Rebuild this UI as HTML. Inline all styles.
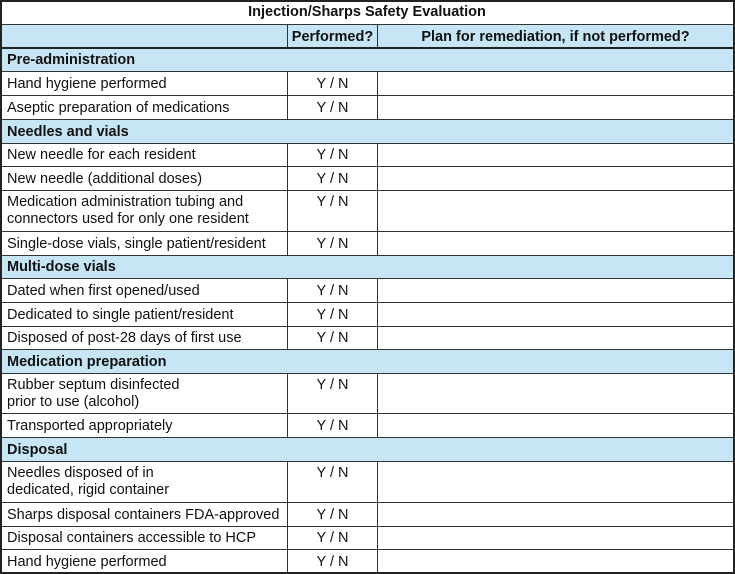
<!DOCTYPE html>
<html><head><meta charset="utf-8"><style>
body{margin:0;width:735px;height:574px;background:#fff;font-family:"Liberation Sans",Arial,sans-serif;font-size:14.5px;color:#111;position:relative;overflow:hidden}
.r{position:absolute;left:1px;width:732px;border-top:1px solid #333;box-sizing:border-box}
.s{background:#c6e6f5;font-weight:bold}
.c{position:absolute;top:0;bottom:0;box-sizing:border-box}
.a{left:0;width:286px;padding-left:6px;white-space:nowrap}
.b{left:286px;width:90px;border-left:1px solid #333;text-align:center}
.d{left:376px;right:0;border-left:1px solid #333}
.one .a,.one .b{display:flex;align-items:center}
.one .b{justify-content:center}
.two .a{padding-top:3px;line-height:17px}
.two .b{padding-top:3px;line-height:17px}
.sec{padding-left:6px;display:flex;align-items:center}
#frame{position:absolute;left:0;top:0;width:735px;height:574px;box-sizing:border-box;border:2px solid #222;pointer-events:none}
</style></head><body>
<div class="r" style="top:0;height:24px;border-top:none;font-weight:bold;display:flex;align-items:center;justify-content:center">Injection/Sharps Safety Evaluation</div>
<div class="r s one" style="top:24px;height:24px"><div class="c a"></div><div class="c b">Performed?</div><div class="c d" style="display:flex;align-items:center;justify-content:center">Plan for remediation, if not performed?</div></div>
<div class="r s sec" style="top:47px;height:24px;border-top:2px solid #222">Pre-administration</div>
<div class="r one" style="top:71px;height:24px"><div class="c a">Hand hygiene performed</div><div class="c b">Y / N</div><div class="c d"></div></div>
<div class="r one" style="top:95px;height:24px"><div class="c a">Aseptic preparation of medications</div><div class="c b">Y / N</div><div class="c d"></div></div>
<div class="r s sec" style="top:119px;height:24px">Needles and vials</div>
<div class="r one" style="top:143px;height:23px"><div class="c a">New needle for each resident</div><div class="c b">Y / N</div><div class="c d"></div></div>
<div class="r one" style="top:166px;height:24px"><div class="c a">New needle (additional doses)</div><div class="c b">Y / N</div><div class="c d"></div></div>
<div class="r two" style="top:190px;height:41px"><div class="c a">Medication administration tubing and<br>connectors used for only one resident</div><div class="c b">Y / N</div><div class="c d"></div></div>
<div class="r one" style="top:231px;height:24px"><div class="c a">Single-dose vials, single patient/resident</div><div class="c b">Y / N</div><div class="c d"></div></div>
<div class="r s sec" style="top:255px;height:23px">Multi-dose vials</div>
<div class="r one" style="top:278px;height:24px"><div class="c a">Dated when first opened/used</div><div class="c b">Y / N</div><div class="c d"></div></div>
<div class="r one" style="top:302px;height:24px"><div class="c a">Dedicated to single patient/resident</div><div class="c b">Y / N</div><div class="c d"></div></div>
<div class="r one" style="top:326px;height:23px"><div class="c a">Disposed of post-28 days of first use</div><div class="c b">Y / N</div><div class="c d"></div></div>
<div class="r s sec" style="top:349px;height:24px">Medication preparation</div>
<div class="r two" style="top:373px;height:40px"><div class="c a">Rubber septum disinfected<br>prior to use (alcohol)</div><div class="c b">Y / N</div><div class="c d"></div></div>
<div class="r one" style="top:413px;height:24px"><div class="c a">Transported appropriately</div><div class="c b">Y / N</div><div class="c d"></div></div>
<div class="r s sec" style="top:437px;height:24px">Disposal</div>
<div class="r two" style="top:461px;height:41px"><div class="c a">Needles disposed of in<br>dedicated, rigid container</div><div class="c b">Y / N</div><div class="c d"></div></div>
<div class="r one" style="top:502px;height:24px"><div class="c a">Sharps disposal containers FDA-approved</div><div class="c b">Y / N</div><div class="c d"></div></div>
<div class="r one" style="top:526px;height:23px"><div class="c a">Disposal containers accessible to HCP</div><div class="c b">Y / N</div><div class="c d"></div></div>
<div class="r one" style="top:549px;height:24px"><div class="c a">Hand hygiene performed</div><div class="c b">Y / N</div><div class="c d"></div></div>
<div id="frame"></div>
</body></html>
